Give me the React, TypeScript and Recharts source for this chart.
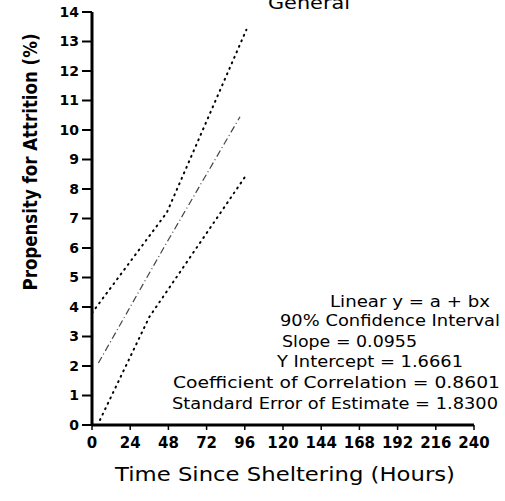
import React from "react";
import { LineChart, Line, XAxis, YAxis } from "recharts";

// hours since sheltering / attrition (%)
const upperHours = [0, 47, 97];
const upperValues = [3.8, 7.2, 13.4];
const fitHours = [4, 45, 93];
const fitValues = [2.1, 6.0, 10.45];
const lowerHours = [5, 36, 96];
const lowerValues = [0.17, 3.66, 8.4];

const xTicks = [0, 24, 48, 72, 96, 120, 144, 168, 192, 216, 240];
const yTicks = [0, 1, 2, 3, 4, 5, 6, 7, 8, 9, 10, 11, 12, 13, 14];

const title = "General";
const xTitle = "Time Since Sheltering (Hours)";
const yTitle = "Propensity for Attrition (%)";
const notes = [
  "Linear y = a + bx",
  "90% Confidence Interval",
  "Slope = 0.0955",
  "Y Intercept = 1.6661",
  "Coefficient of Correlation = 0.8601",
  "Standard Error of Estimate = 1.8300",
];

const toRows = (hours: number[], values: number[]) =>
  hours.map((h, i) => ({ h, v: values[i] }));

const upper = toRows(upperHours, upperValues);
const fit = toRows(fitHours, fitValues);
const lower = toRows(lowerHours, lowerValues);

const font = "DejaVu Sans, Arial, sans-serif";

// placement of the annotation lines: x, baseline, width
const notePos = [
  [330, 307, 160],
  [280, 326, 220],
  [282, 347, 135],
  [277, 367, 186],
  [173, 388, 327],
  [172, 409, 326],
];

export default function App() {
  return (
    <div style={{ position: "absolute", left: 0, top: 0, background: "#fff" }}>
      <LineChart
        width={505}
        height={501}
        margin={{ top: 12, right: 31, bottom: 36, left: 32 }}
      >
        <XAxis
          type="number"
          dataKey="h"
          domain={[0, 240]}
          ticks={xTicks}
          interval={0}
          axisLine={{ stroke: "#000", strokeWidth: 3 }}
          tickLine={{ stroke: "#000", strokeWidth: 1.5 }}
          tickSize={5}
          tickMargin={7}
          height={40}
          tick={{ fill: "#000", fontSize: 15, fontFamily: font, fontWeight: 600 }}
        />
        <YAxis
          type="number"
          dataKey="v"
          domain={[0, 14]}
          ticks={yTicks}
          interval={0}
          width={60}
          axisLine={{ stroke: "#000", strokeWidth: 3 }}
          tickLine={{ stroke: "#000", strokeWidth: 2 }}
          tickSize={10}
          tickMargin={3}
          tick={{ fill: "#000", fontSize: 14, fontFamily: font, fontWeight: 700 }}
        />
        <Line
          data={upper}
          dataKey="v"
          stroke="#000"
          strokeWidth={2}
          strokeDasharray="1 5"
          strokeLinecap="round"
          dot={false}
          isAnimationActive={false}
        />
        <Line
          data={fit}
          dataKey="v"
          stroke="#444"
          strokeWidth={1.2}
          strokeDasharray="7 3 1 3"
          dot={false}
          isAnimationActive={false}
        />
        <Line
          data={lower}
          dataKey="v"
          stroke="#000"
          strokeWidth={2}
          strokeDasharray="1 5"
          strokeLinecap="round"
          dot={false}
          isAnimationActive={false}
        />
        <g fontFamily={font} fill="#000">
          <text x={268} y={9} fontSize={17} textLength={82} lengthAdjust="spacingAndGlyphs">
            {title}
          </text>
          <text
            x={37}
            y={162}
            transform="rotate(-90 37 162)"
            textAnchor="middle"
            fontSize={19}
            fontWeight={700}
            textLength={257}
            lengthAdjust="spacingAndGlyphs"
          >
            {yTitle}
          </text>
          <text
            x={115}
            y={481}
            fontSize={20}
            textLength={340}
            lengthAdjust="spacingAndGlyphs"
          >
            {xTitle}
          </text>
          {notes.map((n, i) => (
            <text
              key={n}
              x={notePos[i][0]}
              y={notePos[i][1]}
              fontSize={15}
              textLength={notePos[i][2]}
              lengthAdjust="spacingAndGlyphs"
            >
              {n}
            </text>
          ))}
        </g>
      </LineChart>
    </div>
  );
}
